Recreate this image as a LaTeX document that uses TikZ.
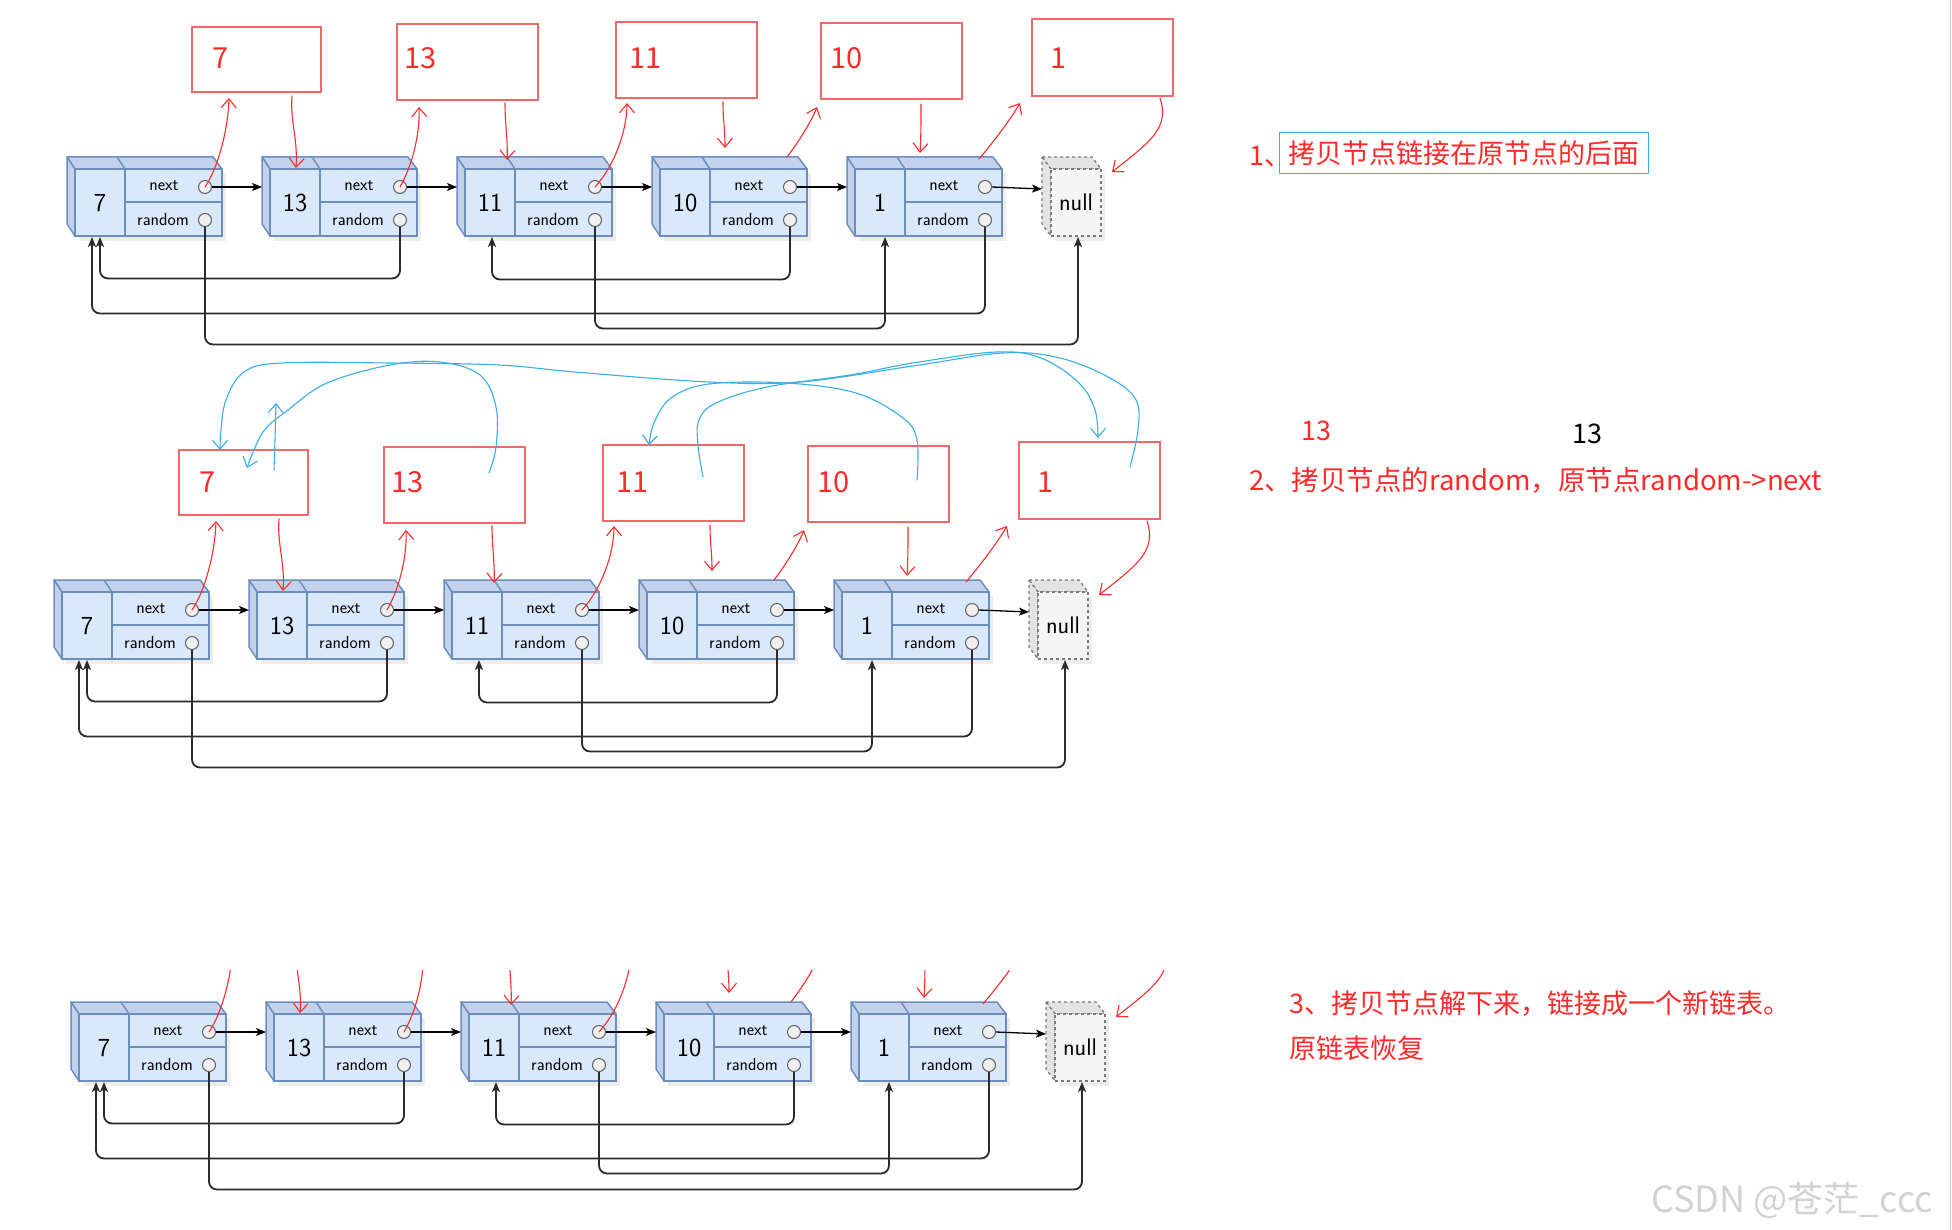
\documentclass[tikz,border=0pt]{standalone}
\usepackage{fontspec}
\newfontfamily\cjk{Noto Sans CJK SC}
\usetikzlibrary{arrows.meta, calc}
\definecolor{cellfill}{HTML}{DAE8FC}
\definecolor{celledge}{HTML}{6C8EBF}
\definecolor{sidefill}{HTML}{C3D2EA}
\definecolor{nullfill}{HTML}{F5F5F5}
\definecolor{nulledge}{HTML}{7A7A7A}
\definecolor{penred}{HTML}{FF2A2A}
\definecolor{boxred}{HTML}{F06A6A}
\definecolor{penblue}{HTML}{3AAEE6}
\definecolor{wire}{HTML}{2B2B2B}

\begin{document}
\begin{tikzpicture}[x=1pt, y=-1pt,
  cellside/.style={fill=sidefill, draw=celledge, line width=1.5pt, line join=round},
  cellface/.style={fill=cellfill, draw=celledge, line width=1.5pt},
  cellline/.style={draw=celledge, line width=1.5pt},
  valtext/.style={font=\sffamily\fontsize{26}{30}\selectfont, inner sep=0pt},
  fldtext/.style={font=\sffamily\fontsize{17.5}{20}\selectfont, inner sep=0pt},
  pin/.style={circle, draw=gray!75!black, fill=gray!12, line width=1pt,
              minimum size=13pt, inner sep=0pt},
  nullside/.style={fill=gray!22, draw=nulledge, line width=1.3pt, dashed},
  nullface/.style={fill=nullfill, draw=nulledge, line width=1.3pt, dashed,
                   font=\sffamily\fontsize{24}{28}\selectfont, inner sep=0pt},
  nxt/.style={draw=black, line width=1.3pt, -{Stealth[length=10pt,width=8pt,inset=2.5pt]}},
  rnd/.style={draw=wire, line width=1.8pt, rounded corners=8pt,
              -{Stealth[length=10pt,width=8pt,inset=2.5pt]}},
  rbox/.style={draw=boxred, line width=1.3pt, inner sep=0pt},
  rlab/.style={font=\cjk\fontsize{29}{34}\selectfont, text=penred, inner sep=0pt},
  redpen/.style={draw=penred, line width=1.1pt, line cap=round,
                 -{Straight Barb[length=9pt,width=15pt]}},
  bluepen/.style={draw=penblue, line width=1.1pt, line cap=round,
                  -{Straight Barb[length=9pt,width=15pt]}},
  steptxt/.style={font=\cjk\fontsize{27}{32}\selectfont, text=penred, inner sep=0pt},
  selbox/.style={draw=penblue, line width=1pt, minimum width=369pt, minimum height=41pt},
]
\useasboundingbox (0,0) rectangle (1952,1230);
\fill[white] (0,0) rectangle (1952,1230);

% three copies of the list
\foreach \r/\dx/\dy in {1/0/0, 2/-13/423, 3/4/845} {
  \begin{scope}[shift={(\dx,\dy)}]
    \foreach \v [count=\k from 0] in {7,13,11,10,1} {
      \pgfmathsetmacro\lx{67+195*\k}
      \fill[black!7] (\lx+12,173) rectangle (\lx+159,241);
      \filldraw[cellside] (\lx,157) -- (\lx+146,157) -- (\lx+155,169) -- (\lx+8,169) -- cycle;
      \filldraw[cellside] (\lx,157) -- (\lx+8,169) -- (\lx+8,236) -- (\lx,224) -- cycle;
      \draw[cellline] (\lx+50,157) -- (\lx+58,169);
      \draw[cellface] (\lx+8,169) rectangle (\lx+155,236);
      \draw[cellline] (\lx+58,169) -- (\lx+58,236) (\lx+58,202) -- (\lx+155,202);
      \node[valtext] (v-\r-\k) at (\lx+33,203) {\v};
      \node[fldtext] (nt-\r-\k) at (\lx+97,186) {next};
      \node[fldtext] (rt-\r-\k) at (\lx+96,219) {random};
      \node[pin] (cn-\r-\k) at (\lx+138,187) {};
      \node[pin] (cr-\r-\k) at (\lx+138,220) {};
      \coordinate (in-\r-\k) at (\lx,187);
    }
    % null
    \fill[black!7] (1055,173) rectangle (1105,241);
    \filldraw[nullside] (1042,157) -- (1092,157) -- (1101,169) -- (1051,169) -- cycle;
    \filldraw[nullside] (1042,157) -- (1051,169) -- (1051,236) -- (1042,224) -- cycle;
    \node[nullface, minimum width=50pt, minimum height=67pt] (nul-\r) at (1076,202.5) {null};
    \coordinate (in-\r-5) at (1042,189);
    % arrow ends under the boxes
    \coordinate (ta-\r) at (92,237);
    \coordinate (tb-\r) at (100,237);
    \coordinate (tc-\r) at (492,237);
    \coordinate (td-\r) at (885,237);
    \coordinate (te-\r) at (1078,237);
    % next
    \foreach \k in {0,...,4} {
      \pgfmathtruncatemacro\j{\k+1}
      \draw[nxt] (cn-\r-\k.east) -- (in-\r-\j);
    }
    % random
    \draw[rnd] (cr-\r-1.south) -- ++(0,51.5) -| (tb-\r);
    \draw[rnd] (cr-\r-3.south) -- ++(0,52.5) -| (tc-\r);
    \draw[rnd] (cr-\r-4.south) -- ++(0,86.5) -| (ta-\r);
    \draw[rnd] (cr-\r-2.south) -- ++(0,101.5) -| (td-\r);
    \draw[rnd] (cr-\r-0.south) -- ++(0,117.5) -| (te-\r);
  \end{scope}
}

% copied nodes (red boxes)
\foreach \r/\dx/\dy in {1/0/0, 2/-13/423} {
  \begin{scope}[shift={(\dx,\dy)}]
    \foreach \v/\cx/\cy/\w/\h/\tx [count=\k from 0] in
      {7/256.5/59.5/129/65/212, 13/467.5/62/141/76/404, 11/686.5/60/141/76/629,
       10/891.5/61/141/76/830, 1/1102.5/57.5/141/77/1050} {
      \node[rbox, minimum width=\w pt, minimum height=\h pt] (rb-\r-\k) at (\cx,\cy) {};
      \node[rlab, anchor=base west] (rl-\r-\k) at (\tx,69) {\v};
    }
  \end{scope}
}

% red pen strokes
\foreach \r/\dx/\dy/\ct in {1/0/0/0, 2/-13/423/0, 3/4/845/125} {
  \begin{scope}[shift={(\dx,\dy)}]
    \clip (0,\ct) rectangle (1300,300);
    \draw[redpen] (cn-\r-0.center) .. controls (218,168) and (228,130) .. (229,98);
    \draw[redpen] (292,96) .. controls (290,120) and (298,140) .. (296,168);
    \draw[redpen] (cn-\r-1.center) .. controls (412,166) and (420,135) .. (419,107);
    \draw[redpen] (505,103) .. controls (505,125) and (508,140) .. (507,160);
    \draw[redpen] (cn-\r-2.center) .. controls (615,165) and (627,130) .. (627,103);
    \draw[redpen] (723,102) .. controls (723,120) and (725,130) .. (725,148);
    \draw[redpen] (787,157) .. controls (800,140) and (812,120) .. (817,107);
    \draw[redpen] (921,104) .. controls (921,125) and (921,135) .. (920,153);
    \draw[redpen] (979,159) .. controls (995,140) and (1010,120) .. (1020,103);
    \draw[redpen] (1160,98) .. controls (1170,128) and (1150,142) .. (1112,172);
  \end{scope}
}

% blue pen strokes (random of the copies)
\draw[bluepen] plot[smooth, tension=0.6] coordinates {(1130,467) (1138,430) (1136,400)
  (1110,378) (1060,358) (1003,353) (913,366) (800,382) (709,382) (575,372) (499,365)
  (390,363) (282,363) (244,372) (226,400) (221,430) (220,450)};
\draw[bluepen] plot[smooth, tension=0.6] coordinates {(489,473) (496,447) (496,407)
  (480,375) (440,362) (390,365) (327,383) (288,410) (263,432) (247,468)};
\draw[bluepen] plot[smooth, tension=0.6] coordinates {(274,470) (275,440) (276,403)};
\draw[bluepen] plot[smooth, tension=0.6] coordinates {(703,477) (698,445) (699,420)
  (716,403) (767,387) (850,375) (913,363) (996,352) (1041,358) (1079,383) (1095,410)
  (1098,438)};
\draw[bluepen] plot[smooth, tension=0.6] coordinates {(917,480) (917,440) (903,418)
  (856,393) (786,383) (709,384) (671,398) (654,423) (649,445)};

% notes
\node[steptxt, anchor=base west] (s1n) at (1249,166) {1、};
\node[steptxt, selbox] (s1t) at (1463.5,153.5) {拷贝节点链接在原节点的后面};
\node[steptxt, anchor=base west] (s2a) at (1301,441) {13};
\node[steptxt, anchor=base west, text=black] (s2b) at (1572,443) {13};
\node[steptxt, anchor=base west, font=\cjk\fontsize{27.5}{32}\selectfont] (s2t) at (1249,490)
  {2、拷贝节点的random，原节点random->next};
\node[steptxt, anchor=base west] (s3t) at (1289,1013)
  {3、拷贝节点解下来，链接成一个新链表。};
\node[steptxt, anchor=base west] (s3u) at (1289,1058) {原链表恢复};
\node[anchor=base west, font=\cjk\fontsize{36}{42}\selectfont, text=gray!35, inner sep=0pt]
  (mark) at (1651,1212) {CSDN @苍茫\_ccc};
\draw[gray!40, line width=1pt] (1950,0) -- (1950,1230);
\end{tikzpicture}
\end{document}
